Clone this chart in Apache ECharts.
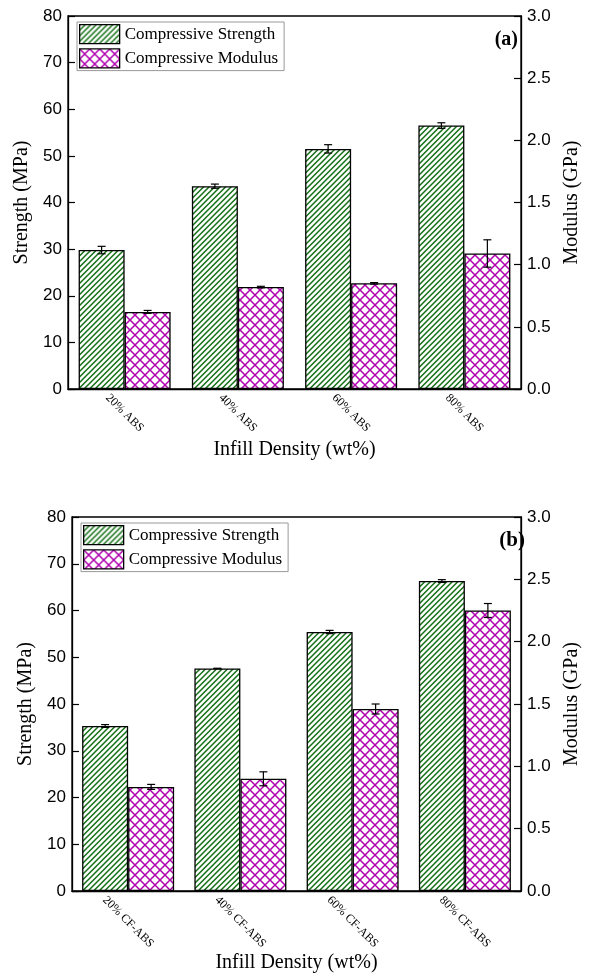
<!DOCTYPE html>
<html>
<head>
<meta charset="utf-8">
<script src="https://cdn.jsdelivr.net/npm/echarts@6/dist/echarts.min.js"></script>
<style>
  html, body { margin: 0; padding: 0; background: #fff; }
  #chart { width: 590px; height: 974px; }
</style>
</head>
<body>
<div id="chart"></div>
<script>
// ---- data ----
const categoriesA = ['20% ABS', '40% ABS', '60% ABS', '80% ABS'];
const strengthA = [29.8, 43.5, 51.5, 56.5];        // MPa
const strengthErrA = [0.8, 0.45, 0.9, 0.6];
const modulusA = [0.62, 0.82, 0.85, 1.09];         // GPa
const modulusErrA = [0.012, 0.006, 0.006, 0.11];

const categoriesB = ['20% CF-ABS', '40% CF-ABS', '60% CF-ABS', '80% CF-ABS'];
const strengthB = [35.3, 47.6, 55.4, 66.3];        // MPa
const strengthErrB = [0.3, 0.05, 0.35, 0.3];
const modulusB = [0.835, 0.90, 1.46, 2.25];        // GPa
const modulusErrB = [0.02, 0.056, 0.04, 0.056];

const strengthTicks = { min: 0, max: 80, interval: 10 };
const modulusTicks = { min: 0, max: 3, interval: 0.5 };

// ---- fill patterns ----
const GREEN = '#137016';
const MAGENTA = '#b000b0';

// diagonal "/" hatching, two lines per 11px tile
function hatchPattern() {
  const s = 11;
  const c = document.createElement('canvas');
  c.width = s; c.height = s;
  const g = c.getContext('2d');
  g.fillStyle = '#fff'; g.fillRect(0, 0, s, s);
  g.strokeStyle = GREEN; g.lineWidth = 1.5;
  g.beginPath();
  for (const k of [-s, -s / 2, 0, s / 2, s]) {
    g.moveTo(k - 1, s + 1); g.lineTo(k + s + 1, -1);
  }
  g.stroke();
  return { image: c, repeat: 'repeat' };
}

// diamond cross-hatching
function crossPattern() {
  const s = 10;
  const c = document.createElement('canvas');
  c.width = s; c.height = s;
  const g = c.getContext('2d');
  g.fillStyle = '#fff'; g.fillRect(0, 0, s, s);
  g.strokeStyle = MAGENTA; g.lineWidth = 1.5;
  g.beginPath();
  g.moveTo(-1, -1); g.lineTo(s + 1, s + 1);
  g.moveTo(-1, s + 1); g.lineTo(s + 1, -1);
  g.stroke();
  return { image: c, repeat: 'repeat' };
}

const hatch = hatchPattern();
const cross = crossPattern();

const BAR_W = 46;
const SERIF = 'Liberation Serif';
const SANS = 'Liberation Sans';

// error bars drawn on top of each bar, shifted to the bar's slot
function errorSeries(values, errs, gridIdx, yIdx, side) {
  return {
    type: 'custom',
    xAxisIndex: gridIdx,
    yAxisIndex: yIdx,
    z: 10,
    silent: true,
    data: values.map((v, i) => [i, v, errs[i]]),
    encode: { x: 0, y: 1 },
    renderItem: function (params, api) {
      const i = api.value(0), v = api.value(1), e = api.value(2);
      const hi = api.coord([i, v + e]);
      const lo = api.coord([i, v - e]);
      const x = hi[0] + side * BAR_W / 2;
      const cap = 4;
      const style = { stroke: '#000', lineWidth: 1.2 };
      return {
        type: 'group',
        children: [
          { type: 'line', shape: { x1: x, y1: hi[1], x2: x, y2: lo[1] }, style },
          { type: 'line', shape: { x1: x - cap, y1: hi[1], x2: x + cap, y2: hi[1] }, style },
          { type: 'line', shape: { x1: x - cap, y1: lo[1], x2: x + cap, y2: lo[1] }, style }
        ]
      };
    }
  };
}

function xAxisFor(gridIdx, cats, margin, nameGap) {
  return {
    type: 'category',
    gridIndex: gridIdx,
    data: cats,
    boundaryGap: true,
    name: 'Infill Density (wt%)',
    nameLocation: 'middle',
    nameGap: nameGap,
    nameTextStyle: { fontFamily: SERIF, fontSize: 20, color: '#000' },
    axisLine: { lineStyle: { color: '#000', width: 1.3 } },
    axisTick: { inside: true, length: 4, lineStyle: { color: '#000', width: 1.2 } },
    axisLabel: {
      rotate: -45, align: 'center', verticalAlign: 'middle', margin: margin,
      fontFamily: SERIF, fontSize: 12, color: '#000'
    },
    splitLine: { show: false }
  };
}

function yAxisFor(gridIdx, pos, ticks, name, fmt, nameGap) {
  return {
    type: 'value',
    gridIndex: gridIdx,
    position: pos,
    min: ticks.min, max: ticks.max, interval: ticks.interval,
    name: name,
    nameLocation: 'middle',
    nameGap: nameGap,
    nameTextStyle: { fontFamily: SERIF, fontSize: 20, color: '#000' },
    axisLine: { show: true, lineStyle: { color: '#000', width: 1.3 } },
    axisTick: { show: true, inside: true, length: 7, lineStyle: { color: '#000', width: 1.2 } },
    axisLabel: { fontFamily: SANS, fontSize: 17, color: '#000', margin: 6, formatter: fmt },
    splitLine: { show: false }
  };
}

function barSeries(name, values, gridIdx, yIdx, fill) {
  return {
    name: name,
    type: 'bar',
    xAxisIndex: gridIdx,
    yAxisIndex: yIdx,
    data: values,
    barWidth: BAR_W,
    barGap: '0%',
    itemStyle: { color: fill, borderColor: '#000', borderWidth: 1.3 },
    emphasis: { disabled: true }
  };
}

function legendFor(gridIdx, left, top) {
  return {
    orient: 'vertical',
    left: left, top: top,
    data: ['Compressive Strength', 'Compressive Modulus'],
    icon: 'rect',
    itemWidth: 40, itemHeight: 19, itemGap: 4, itemTextGap: 5,
    padding: [2, 6, 2, 2],
    borderColor: '#999', borderWidth: 1,
    selectedMode: false,
    textStyle: { fontFamily: SERIF, fontSize: 17, color: '#000' },
    itemStyle: { borderColor: '#000', borderWidth: 1.3 }
  };
}

const fmt0 = v => String(v);
const fmt1 = v => v.toFixed(1);

const chart = echarts.init(document.getElementById('chart'), null, { renderer: 'canvas' });

chart.setOption({
  animation: false,
  backgroundColor: '#fff',
  title: [
    { text: '(a)', right: 72, top: 30, padding: 0,
      textStyle: { fontFamily: SERIF, fontSize: 20, fontWeight: 'bold', color: '#000' } },
    { text: '(b)', right: 65, top: 530, padding: 0,
      textStyle: { fontFamily: SERIF, fontSize: 21, fontWeight: 'bold', color: '#000' } }
  ],
  legend: [legendFor(0, 77, 22), legendFor(1, 81, 523)],
  grid: [
    { left: 68, right: 58, top: 16, height: 373, show: true, borderColor: '#000', borderWidth: 1.3, containLabel: false },
    { left: 72, right: 55, top: 517, height: 374, show: true, borderColor: '#000', borderWidth: 1.3, containLabel: false }
  ],
  xAxis: [
    xAxisFor(0, categoriesA, 24, 51),
    xAxisFor(1, categoriesB, 31, 61)
  ],
  yAxis: [
    yAxisFor(0, 'left', strengthTicks, 'Strength (MPa)', fmt0, 34),
    yAxisFor(0, 'right', modulusTicks, 'Modulus (GPa)', fmt1, 41),
    yAxisFor(1, 'left', strengthTicks, 'Strength (MPa)', fmt0, 34),
    yAxisFor(1, 'right', modulusTicks, 'Modulus (GPa)', fmt1, 41)
  ],
  series: [
    barSeries('Compressive Strength', strengthA, 0, 0, hatch),
    barSeries('Compressive Modulus', modulusA, 0, 1, cross),
    errorSeries(strengthA, strengthErrA, 0, 0, -1),
    errorSeries(modulusA, modulusErrA, 0, 1, 1),
    barSeries('Compressive Strength', strengthB, 1, 2, hatch),
    barSeries('Compressive Modulus', modulusB, 1, 3, cross),
    errorSeries(strengthB, strengthErrB, 1, 2, -1),
    errorSeries(modulusB, modulusErrB, 1, 3, 1)
  ]
});
</script>
</body>
</html>
